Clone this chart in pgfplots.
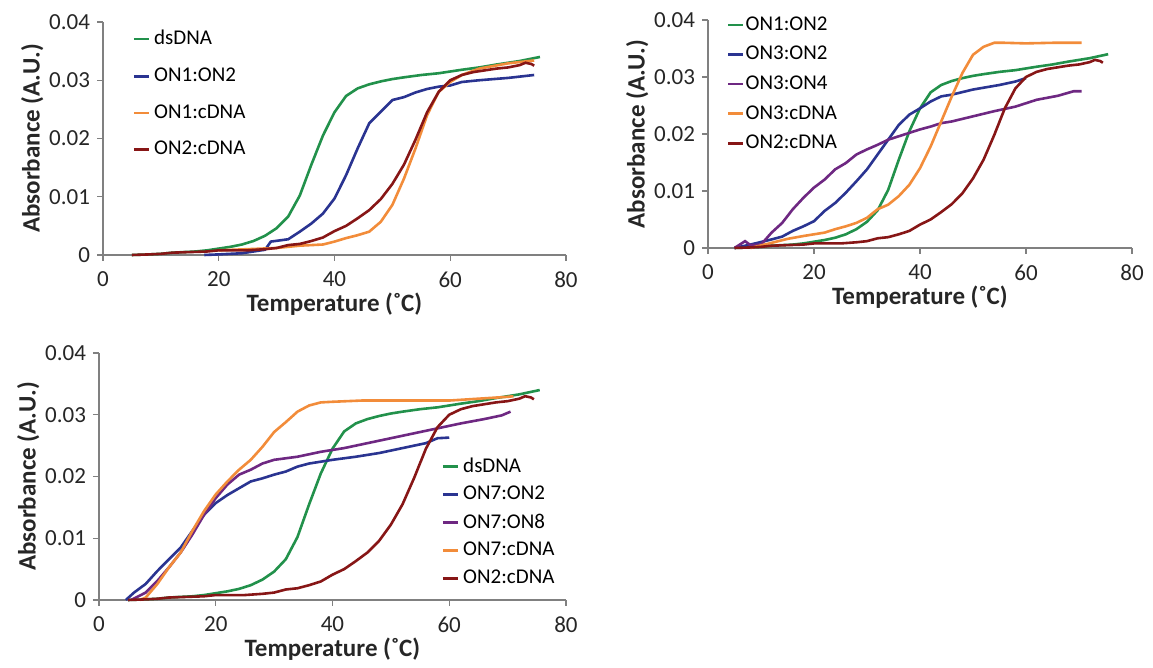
\documentclass[border=0pt]{standalone}
\usepackage{fontspec}
\setmainfont{Carlito}
\usepackage{pgfplots}
\usepackage{pgfplotstable}
\pgfplotsset{compat=1.18}

\definecolor{cgreen}{RGB}{34,145,75}
\definecolor{cblue}{RGB}{42,52,145}
\definecolor{cpurple}{RGB}{110,40,130}
\definecolor{corange}{RGB}{242,140,58}
\definecolor{cdred}{RGB}{135,22,22}

% dsDNA (= ON1:ON2 in panel b), shared by all panels
\pgfplotstableread{
T A
5 0
8 0.0001
10 0.0002
12 0.0004
14 0.0005
16 0.0006
18 0.0008
20 0.0011
22 0.0014
24 0.0018
26 0.0024
28 0.0033
30 0.0046
32 0.0066
34 0.0102
36 0.0155
38 0.0205
40 0.0245
42 0.0273
44 0.0286
46 0.0293
48 0.0298
50 0.0302
52 0.0305
55 0.0309
58 0.0312
60 0.0315
62 0.0318
65 0.0322
68 0.0327
70 0.0330
72 0.0333
75.5 0.0340
}\dsdna

% ON2:cDNA, shared by all panels
\pgfplotstableread{
T A
5 0
8 0.0001
10 0.0002
12 0.0004
15 0.0005
18 0.0006
20 0.0008
22 0.0008
25 0.0008
28 0.0010
30 0.0012
32 0.0017
34 0.0019
36 0.0024
38 0.0030
40 0.0041
42 0.0050
44 0.0063
46 0.0077
48 0.0096
50 0.0122
52 0.0155
54 0.0198
56 0.0245
58 0.0280
60 0.0300
62 0.0309
64 0.0314
66 0.0317
68 0.0320
70 0.0322
72 0.0326
73 0.0330
74 0.0328
74.5 0.0325
}\ontwocdna

% panel a
\pgfplotstableread{
T A
17.5 0
20 0.0001
24 0.0003
28 0.0009
29 0.0023
32 0.0027
34 0.0040
36 0.0054
38 0.0071
40 0.0097
42 0.0137
44 0.0183
46 0.0226
48 0.0246
50 0.0266
52 0.0271
54 0.0279
56 0.0285
58 0.0289
60 0.0291
62 0.0297
65 0.0300
70 0.0304
74.5 0.0309
}\ononeontwo

\pgfplotstableread{
T A
20 0.0008
25 0.0010
30 0.0012
34 0.0016
38 0.0018
40 0.0023
42 0.0029
44 0.0034
46 0.0040
48 0.0057
50 0.0086
52 0.0131
54 0.0183
56 0.0240
58 0.0280
60 0.0297
62 0.0309
65 0.0320
70 0.0329
74.5 0.0334
}\ononecdna

% panel b
\pgfplotstableread{
T A
5 0
8 0.0006
12 0.0015
14 0.0020
16 0.0030
18 0.0038
20 0.0047
22 0.0065
24 0.0079
26 0.0097
28 0.0117
30 0.0138
32 0.0164
34 0.0190
36 0.0216
38 0.0234
40 0.0245
42 0.0257
44 0.0266
46 0.0269
50 0.0278
55 0.0286
58 0.0292
60 0.0298
}\onthreeontwo

\pgfplotstableread{
T A
5 0
7 0.0012
8 0.0005
10 0.0006
12 0.0027
14 0.0044
16 0.0068
18 0.0088
20 0.0106
22 0.0120
24 0.0138
26 0.0149
28 0.0164
30 0.0173
32 0.0181
34 0.0190
36 0.0196
38 0.0202
40 0.0208
42 0.0213
44 0.0219
46 0.0222
50 0.0231
54 0.0240
58 0.0248
62 0.0260
66 0.0267
69 0.0275
70.5 0.0275
}\onthreeonfour

\pgfplotstableread{
T A
8 0
12 0.0009
15 0.0016
18 0.0021
20 0.0024
22 0.0027
24 0.0033
26 0.0038
28 0.0044
30 0.0053
32 0.0068
34 0.0076
36 0.0091
38 0.0111
40 0.0140
42 0.0178
44 0.0222
46 0.0266
48 0.0307
50 0.0339
52 0.0353
54 0.0360
56 0.0360
60 0.0359
65 0.0360
70.5 0.0360
}\onthreecdna

% panel c
\pgfplotstableread{
T A
4.6 0
6 0.0012
8 0.0026
10 0.0047
12 0.0066
14 0.0085
16 0.0112
18 0.0138
20 0.0157
22 0.0170
24 0.0181
26 0.0192
28 0.0197
30 0.0203
32 0.0208
34 0.0216
36 0.0221
38 0.0224
40 0.0227
44 0.0232
48 0.0238
52 0.0246
56 0.0254
58 0.0262
60 0.0263
}\onsevenontwo

\pgfplotstableread{
T A
5.5 0
8 0.0012
10 0.0031
12 0.0053
14 0.0077
16 0.0106
18 0.0138
20 0.0165
22 0.0187
24 0.0203
26 0.0211
28 0.0221
30 0.0227
34 0.0232
38 0.0240
42 0.0246
46 0.0254
50 0.0262
54 0.0270
58 0.0278
62 0.0286
66 0.0293
69 0.0299
70.5 0.0305
}\onsevenoneight

\pgfplotstableread{
T A
7 0
8 0.0004
10 0.0026
12 0.0053
14 0.0077
16 0.0112
18 0.0144
20 0.0171
22 0.0192
24 0.0211
26 0.0227
28 0.0248
30 0.0272
32 0.0288
34 0.0305
36 0.0315
38 0.0320
40 0.0321
45 0.0323
50 0.0323
55 0.0323
60 0.0323
65 0.0326
70 0.0329
71 0.0330
}\onsevencdna

\pgfplotsset{
  melt/.style={
    scale only axis,
    anchor=south west,
    xmin=0, xmax=80, ymin=0, ymax=0.04,
    xtick={0,20,40,60,80},
    ytick={0,0.01,0.02,0.03,0.04},
    yticklabels={0,0.01,0.02,0.03,0.04},
    scaled y ticks=false,
    axis x line=bottom, axis y line=left,
    axis line style={-, draw=black!50, line width=0.6pt},
    tick style={draw=black!50, line width=0.6pt},
    tick align=outside,
    major tick length=3pt,
    minor tick num=0,
    tick label style={font=\fontsize{11.5}{13}\selectfont, text=black!85},
    /pgf/number format/assume math mode=true,
    xticklabel style={yshift=-2pt},
    xlabel={\textbf{Temperature (˚C)}},
    ylabel={\textbf{Absorbance (A.U.)}},
    label style={font=\fontsize{12.5}{14}\selectfont, text=black!85},
    xlabel style={yshift=4.5pt},
    ylabel style={yshift=-4pt},
    clip=false,
    legend style={draw=none, fill=none, font=\fontsize{10.5}{12}\selectfont,
      cells={anchor=west}},
    legend image code/.code={\draw[#1, line width=1.3pt] (0pt,0pt) -- (7.5pt,0pt);},
    every axis plot/.append style={line width=1.3pt, no marks},
  }
}

\begin{document}
\begin{tikzpicture}
\path (0,0) rectangle (576.5pt,334pt);

% panel a
\begin{axis}[melt, at={(51.5pt,206.5pt)}, width=231.5pt, height=116.5pt,
  legend style={at={(0.05,1.0)}, anchor=north west, row sep=6pt}]
\addplot[cgreen] table[x=T,y=A] {\dsdna};
\addlegendentry{dsDNA}
\addplot[cblue] table[x=T,y=A] {\ononeontwo};
\addlegendentry{ON1:ON2}
\addplot[corange] table[x=T,y=A] {\ononecdna};
\addlegendentry{ON1:cDNA}
\addplot[cdred] table[x=T,y=A] {\ontwocdna};
\addlegendentry{ON2:cDNA}
\end{axis}

% panel b
\begin{axis}[melt, at={(354pt,210pt)}, width=212pt, height=114pt,
  legend style={at={(0.03,1.052)}, anchor=north west, row sep=2.5pt,
    nodes={inner xsep=0.5pt}}]
\addplot[cgreen] table[x=T,y=A] {\dsdna};
\addlegendentry{ON1:ON2}
\addplot[cblue] table[x=T,y=A] {\onthreeontwo};
\addlegendentry{ON3:ON2}
\addplot[cpurple] table[x=T,y=A] {\onthreeonfour};
\addlegendentry{ON3:ON4}
\addplot[corange] table[x=T,y=A] {\onthreecdna};
\addlegendentry{ON3:cDNA}
\addplot[cdred] table[x=T,y=A] {\ontwocdna};
\addlegendentry{ON2:cDNA}
\end{axis}

% panel c
\begin{axis}[melt, at={(49.5pt,34pt)}, width=233.5pt, height=123.5pt,
  legend style={at={(0.72,0.61)}, anchor=north west, row sep=1.5pt}]
\addplot[cgreen] table[x=T,y=A] {\dsdna};
\addlegendentry{dsDNA}
\addplot[cblue] table[x=T,y=A] {\onsevenontwo};
\addlegendentry{ON7:ON2}
\addplot[cpurple] table[x=T,y=A] {\onsevenoneight};
\addlegendentry{ON7:ON8}
\addplot[corange] table[x=T,y=A] {\onsevencdna};
\addlegendentry{ON7:cDNA}
\addplot[cdred] table[x=T,y=A] {\ontwocdna};
\addlegendentry{ON2:cDNA}
\end{axis}
\end{tikzpicture}
\end{document}
